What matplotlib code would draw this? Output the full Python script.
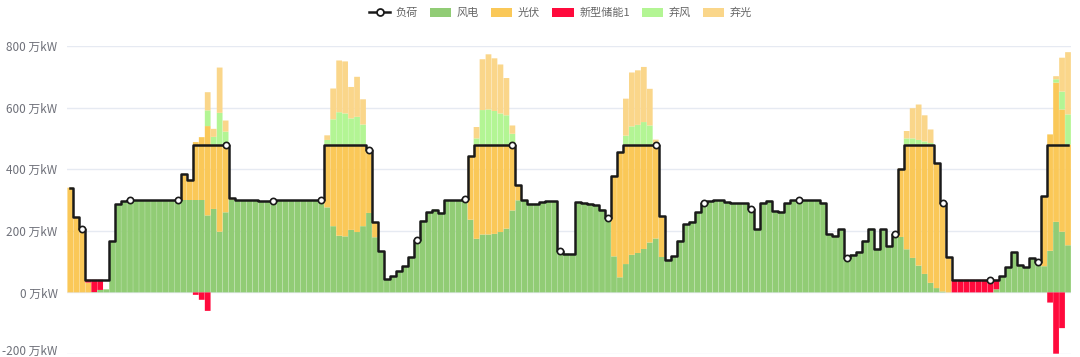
import matplotlib.pyplot as plt
from matplotlib.lines import Line2D
from matplotlib.patches import Patch
from matplotlib.transforms import ScaledTranslation
import numpy as np

plt.rcParams['font.family'] = ['Noto Sans CJK SC', 'DejaVu Sans']

# 168 hourly points (one week), unit: 万kW
wind = [
    0, 0, 0, 0, 1, 8, 10, 166, 287, 296, 300, 300, 300, 300, 300, 300, 300, 300, 300, 300, 300, 300, 300, 250,
    271, 197, 260, 302, 300, 300, 300, 300, 297, 297, 297, 300, 300, 300, 300, 300, 300, 300, 300, 276, 215, 184, 182, 203,
    196, 215, 258, 179, 134, 43, 52, 70, 85, 115, 171, 233, 260, 269, 259, 300, 300, 300, 303, 236, 174, 188, 188, 190,
    196, 207, 266, 299, 299, 288, 288, 293, 296, 296, 135, 126, 125, 293, 290, 288, 283, 269, 242, 117, 49, 92, 122, 128,
    141, 162, 175, 115, 106, 118, 168, 222, 230, 260, 290, 296, 300, 300, 294, 290, 290, 290, 271, 205, 291, 298, 264, 262,
    290, 300, 300, 300, 300, 300, 291, 188, 184, 206, 113, 123, 132, 168, 207, 142, 205, 150, 190, 180, 140, 112, 87, 60,
    31, 14, 3, 0, 0, 0, 0, 0, 0, 0, 0, 10, 52, 82, 131, 88, 81, 112, 100, 85, 135, 229, 197, 153,
]
solar = [
    340, 244, 207, 32, 0, 0, 0, 0, 0, 0, 0, 0, 0, 0, 0, 0, 0, 0, 0, 85, 66, 188, 204, 290,
    209, 283, 220, 5, 0, 0, 0, 0, 0, 0, 0, 0, 0, 0, 0, 0, 0, 0, 0, 204, 265, 296, 298, 277,
    284, 265, 204, 48, 0, 0, 0, 0, 0, 0, 0, 0, 0, 0, 0, 0, 0, 0, 0, 206, 306, 292, 292, 290,
    284, 273, 214, 49, 0, 0, 0, 0, 0, 0, 0, 0, 0, 0, 0, 0, 0, 0, 0, 262, 406, 388, 358, 352,
    339, 318, 305, 132, 0, 0, 0, 0, 0, 0, 0, 0, 0, 0, 0, 0, 0, 0, 0, 0, 0, 0, 0, 0,
    0, 0, 0, 0, 0, 0, 0, 0, 0, 0, 0, 0, 0, 0, 0, 0, 0, 0, 0, 222, 340, 368, 393, 420,
    449, 406, 287, 115, 0, 0, 0, 0, 0, 0, 0, 0, 0, 0, 0, 0, 0, 0, 0, 227, 378, 452, 397, 327,
]
storage = [
    0, 0, 0, 9, 40, 33, 0, 0, 0, 0, 0, 0, 0, 0, 0, 0, 0, 0, 0, 0, 0, -8, -24, -60,
    0, 0, 0, 0, 0, 0, 0, 0, 0, 0, 0, 0, 0, 0, 0, 0, 0, 0, 0, 0, 0, 0, 0, 0,
    0, 0, 0, 0, 0, 0, 0, 0, 0, 0, 0, 0, 0, 0, 0, 0, 0, 0, 0, 0, 0, 0, 0, 0,
    0, 0, 0, 0, 0, 0, 0, 0, 0, 0, 0, 0, 0, 0, 0, 0, 0, 0, 0, 0, 0, 0, 0, 0,
    0, 0, 0, 0, 0, 0, 0, 0, 0, 0, 0, 0, 0, 0, 0, 0, 0, 0, 0, 0, 0, 0, 0, 0,
    0, 0, 0, 0, 0, 0, 0, 0, 0, 0, 0, 0, 0, 0, 0, 0, 0, 0, 0, 0, 0, 0, 0, 0,
    0, 0, 0, 0, 41, 41, 41, 41, 41, 41, 41, 31, 0, 0, 0, 0, 0, 0, 0, 0, -33, -199, -116, 0,
]
curtail_wind = [
    0, 0, 0, 0, 0, 0, 0, 0, 0, 0, 0, 0, 0, 0, 0, 0, 0, 0, 0, 0, 0, 0, 0, 51,
    25, 103, 42, 0, 0, 0, 0, 0, 0, 0, 0, 0, 0, 0, 0, 0, 0, 0, 0, 15, 82, 105, 101, 85,
    90, 65, 0, 0, 0, 0, 0, 0, 0, 0, 0, 0, 0, 0, 0, 0, 0, 0, 0, 0, 20, 112, 114, 109,
    101, 95, 35, 0, 0, 0, 0, 0, 0, 0, 0, 0, 0, 0, 0, 0, 0, 0, 0, 0, 0, 29, 59, 64,
    73, 62, 0, 0, 0, 0, 0, 0, 0, 0, 0, 0, 0, 0, 0, 0, 0, 0, 0, 0, 0, 0, 0, 0,
    0, 0, 0, 0, 0, 0, 0, 0, 0, 0, 0, 0, 0, 0, 0, 0, 0, 0, 0, 0, 20, 20, 15, 10,
    5, 0, 0, 0, 0, 0, 0, 0, 0, 0, 0, 0, 0, 0, 0, 0, 0, 0, 0, 0, 0, 11, 58, 98,
]
curtail_solar = [
    0, 0, 0, 0, 0, 0, 0, 0, 0, 0, 0, 0, 0, 0, 0, 0, 0, 0, 0, 0, 0, 0, 0, 59,
    26, 147, 36, 0, 0, 0, 0, 0, 0, 0, 0, 0, 0, 0, 0, 0, 0, 0, 0, 15, 100, 168, 169, 102,
    130, 82, 0, 0, 0, 0, 0, 0, 0, 0, 0, 0, 0, 0, 0, 0, 0, 0, 0, 0, 37, 165, 179, 171,
    159, 121, 27, 0, 0, 0, 0, 0, 0, 0, 0, 0, 0, 0, 0, 0, 0, 0, 0, 0, 0, 120, 175, 177,
    179, 119, 16, 0, 0, 0, 0, 0, 0, 0, 0, 0, 0, 0, 0, 0, 0, 0, 0, 0, 0, 0, 0, 0,
    0, 0, 0, 0, 0, 0, 0, 0, 0, 0, 0, 0, 0, 0, 0, 0, 0, 0, 0, 0, 24, 98, 115, 85,
    44, 0, 0, 0, 0, 0, 0, 0, 0, 0, 0, 0, 0, 0, 0, 0, 0, 0, 0, 0, 0, 10, 110, 202,
]
load = [
    340, 244, 207, 41, 41, 41, 41, 166, 287, 296, 300, 300, 300, 300, 300, 300, 300, 300, 300, 385, 366, 480, 480, 480,
    480, 480, 480, 307, 300, 300, 300, 300, 297, 297, 297, 300, 300, 300, 300, 300, 300, 300, 300, 480, 480, 480, 480, 480,
    480, 480, 462, 227, 134, 43, 52, 70, 85, 115, 171, 233, 260, 269, 259, 300, 300, 300, 303, 442, 480, 480, 480, 480,
    480, 480, 480, 348, 299, 288, 288, 293, 296, 296, 135, 126, 125, 293, 290, 288, 283, 269, 242, 379, 455, 480, 480, 480,
    480, 480, 480, 247, 106, 118, 168, 222, 230, 260, 290, 296, 300, 300, 294, 290, 290, 290, 271, 205, 291, 298, 264, 262,
    290, 300, 300, 300, 300, 300, 291, 188, 184, 206, 113, 123, 132, 168, 207, 142, 205, 150, 190, 402, 480, 480, 480, 480,
    480, 420, 290, 115, 41, 41, 41, 41, 41, 41, 41, 41, 52, 82, 131, 88, 81, 112, 100, 312, 480, 480, 480, 480,
]
y_ticks = [-200, 0, 200, 400, 600, 800]
legend_names = ["负荷", "风电", "光伏", "新型储能1", "弃风", "弃光"]

C_WIND = "#91CC75"
C_SOLAR = "#FAC858"
C_STORE = "#FF0A3C"
C_CW = "#B3F594"
C_CS = "#FAD68A"

x = np.arange(len(load))
wind_a = np.array(wind, float)
solar_a = np.array(solar, float)
st_a = np.array(storage, float)
cw_a = np.array(curtail_wind, float)
cs_a = np.array(curtail_solar, float)

fig = plt.figure(figsize=(10.8, 3.57), dpi=100)
ax = fig.add_axes([67.3 / 1080, 3 / 357, (1071 - 67.3) / 1080, (354 - 46) / 357])

# snap=False keeps the thin gaps between bars faint instead of 1px white lines
bar_kw = dict(width=0.96, linewidth=0, snap=False)
ax.bar(x, wind_a, color=C_WIND, **bar_kw)
ax.bar(x, solar_a, bottom=wind_a, color=C_SOLAR, **bar_kw)
pos_st = np.clip(st_a, 0, None)
neg_st = np.clip(st_a, None, 0)
ax.bar(x, pos_st, bottom=wind_a + solar_a, color=C_STORE, **bar_kw)
ax.bar(x, neg_st, color=C_STORE, **bar_kw)
base = wind_a + solar_a + pos_st
ax.bar(x, cw_a, bottom=base, color=C_CW, **bar_kw)
ax.bar(x, cs_a, bottom=base + cw_a, color=C_CS, **bar_kw)

ax.plot(x, load, drawstyle="steps-mid", color="#1a1a1a", lw=1.8, zorder=5)
ax.plot(x[2::8], np.array(load)[2::8], "o", ms=4.5, mfc="white", mec="#1a1a1a",
        mew=1.2, zorder=6)

ax.set_xlim(-0.5, len(load) - 0.5)
ax.set_ylim(-200, 800)
ax.set_yticks(y_ticks)
ax.set_yticklabels([f"{v} 万kW" for v in y_ticks])
ax.tick_params(axis="y", length=0, pad=7, labelsize=8.5, labelcolor="#6E7079")
# keep the bottom label inside the canvas
lab = ax.get_yticklabels()[0]
lab.set_transform(lab.get_transform() + ScaledTranslation(0, 3 / 72, fig.dpi_scale_trans))
ax.set_xticks([])
ax.grid(axis="y", color="#E6EAF2", lw=1)
ax.set_axisbelow(True)
for s in ax.spines.values():
    s.set_visible(False)

handles = [
    Line2D([0], [0], color="#1a1a1a", lw=1.8, marker="o", ms=5, mfc="white", mec="#1a1a1a", mew=1.3),
    Patch(facecolor=C_WIND), Patch(facecolor=C_SOLAR), Patch(facecolor=C_STORE),
    Patch(facecolor=C_CW), Patch(facecolor=C_CS),
]
leg = fig.legend(handles, legend_names, loc="upper center", bbox_to_anchor=(0.519, 1.006), ncol=6,
                 frameon=False, fontsize=8, handlelength=1.9, handleheight=0.9,
                 columnspacing=1.1, handletextpad=0.5)
for t in leg.get_texts():
    t.set_color("#666666")

fig.savefig("out.png", dpi=100)
